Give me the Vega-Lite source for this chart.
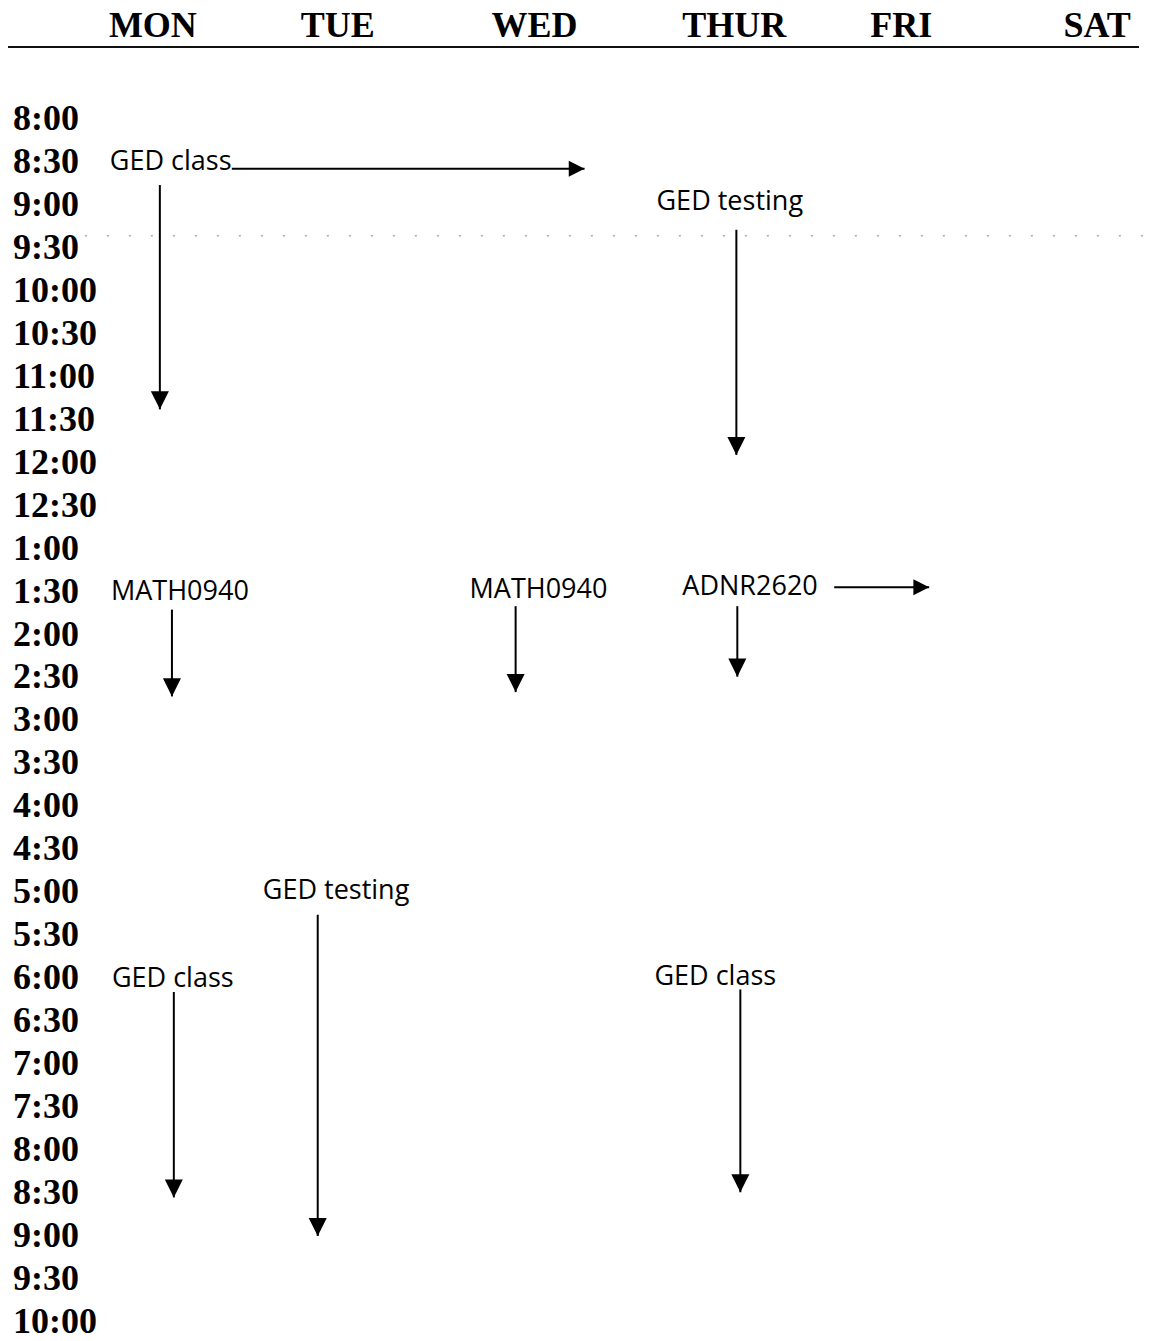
{
  "$schema": "https://vega.github.io/schema/vega-lite/v6.json",
  "width": 1155,
  "height": 1341,
  "padding": 0,
  "autosize": {"type": "fit", "contains": "padding"},
  "background": "white",
  "config": {"view": {"stroke": null}},
  "datasets": {
    "days": [
      {"day": "MON", "col": 1.0},
      {"day": "TUE", "col": 1.979},
      {"day": "WED", "col": 3.021},
      {"day": "THUR", "col": 4.079},
      {"day": "FRI", "col": 4.963},
      {"day": "SAT", "col": 6.0}
    ],
    "times": [
      {"t": 8, "label": "8:00"}, {"t": 8.5, "label": "8:30"},
      {"t": 9, "label": "9:00"}, {"t": 9.5, "label": "9:30"},
      {"t": 10, "label": "10:00"}, {"t": 10.5, "label": "10:30"},
      {"t": 11, "label": "11:00"}, {"t": 11.5, "label": "11:30"},
      {"t": 12, "label": "12:00"}, {"t": 12.5, "label": "12:30"},
      {"t": 13, "label": "1:00"}, {"t": 13.5, "label": "1:30"},
      {"t": 14, "label": "2:00"}, {"t": 14.5, "label": "2:30"},
      {"t": 15, "label": "3:00"}, {"t": 15.5, "label": "3:30"},
      {"t": 16, "label": "4:00"}, {"t": 16.5, "label": "4:30"},
      {"t": 17, "label": "5:00"}, {"t": 17.5, "label": "5:30"},
      {"t": 18, "label": "6:00"}, {"t": 18.5, "label": "6:30"},
      {"t": 19, "label": "7:00"}, {"t": 19.5, "label": "7:30"},
      {"t": 20, "label": "8:00"}, {"t": 20.5, "label": "8:30"},
      {"t": 21, "label": "9:00"}, {"t": 21.5, "label": "9:30"},
      {"t": 22, "label": "10:00"}
    ],
    "events": [
      {"day": "MON", "label": "GED class", "col": 0.772, "t": 8.5},
      {"day": "THUR", "label": "GED testing", "col": 3.667, "t": 8.97},
      {"day": "MON", "label": "MATH0940", "col": 0.778, "t": 13.5},
      {"day": "WED", "label": "MATH0940", "col": 2.677, "t": 13.48},
      {"day": "THUR", "label": "ADNR2620", "col": 3.804, "t": 13.45},
      {"day": "TUE", "label": "GED testing", "col": 1.582, "t": 16.99},
      {"day": "MON", "label": "GED class", "col": 0.783, "t": 18.01},
      {"day": "THUR", "label": "GED class", "col": 3.656, "t": 17.98}
    ],
    "downArrows": [
      {"day": "MON", "col": 1.037, "start": 8.77, "end": 11.38},
      {"day": "THUR", "col": 4.09, "start": 9.29, "end": 11.91},
      {"day": "MON", "col": 1.101, "start": 13.71, "end": 14.72},
      {"day": "WED", "col": 2.921, "start": 13.67, "end": 14.67},
      {"day": "THUR", "col": 4.095, "start": 13.67, "end": 14.49},
      {"day": "TUE", "col": 1.873, "start": 17.26, "end": 21.0},
      {"day": "MON", "col": 1.111, "start": 18.16, "end": 20.55},
      {"day": "THUR", "col": 4.111, "start": 18.13, "end": 20.49}
    ],
    "rightArrows": [
      {"day": "MON", "t": 8.58, "from": 1.418, "to": 3.286},
      {"day": "THUR", "t": 13.45, "from": 4.608, "to": 5.111}
    ],
    "lines": [
      {"kind": "header rule", "x0": 0.233, "x1": 6.222, "t": 7.163},
      {"kind": "scan dots", "x0": 0.64, "x1": 6.3, "t": 9.36}
    ]
  },
  "layer": [
    {
      "data": {"name": "lines"},
      "transform": [{"filter": "datum.kind === 'header rule'"}],
      "mark": {"type": "rule", "strokeWidth": 2, "color": "#111"},
      "encoding": {
        "x": {"field": "x0", "type": "quantitative", "scale": {"domain": [0.19048, 6.30159], "nice": false, "zero": false}, "axis": null},
        "x2": {"field": "x1"},
        "y": {"field": "t", "type": "quantitative", "scale": {"domain": [6.6163, 22.2093], "nice": false, "zero": false, "reverse": true}, "axis": null}
      }
    },
    {
      "data": {"name": "lines"},
      "transform": [{"filter": "datum.kind === 'scan dots'"}],
      "mark": {"type": "rule", "strokeWidth": 1.5, "color": "#aaa", "strokeDash": [2, 20]},
      "encoding": {
        "x": {"field": "x0", "type": "quantitative", "scale": {"domain": [0.19048, 6.30159], "nice": false, "zero": false}, "axis": null},
        "x2": {"field": "x1"},
        "y": {"field": "t", "type": "quantitative", "scale": {"domain": [6.6163, 22.2093], "nice": false, "zero": false, "reverse": true}, "axis": null}
      }
    },
    {
      "data": {"name": "days"},
      "mark": {"type": "text", "font": "Liberation Serif", "fontWeight": "bold", "fontSize": 36, "align": "center", "baseline": "middle", "color": "#000"},
      "encoding": {
        "x": {"field": "col", "type": "quantitative", "scale": {"domain": [0.19048, 6.30159], "nice": false, "zero": false}, "axis": null},
        "y": {"datum": 6.92, "type": "quantitative", "scale": {"domain": [6.6163, 22.2093], "nice": false, "zero": false, "reverse": true}, "axis": null},
        "text": {"field": "day"}
      }
    },
    {
      "data": {"name": "times"},
      "mark": {"type": "text", "font": "Liberation Serif", "fontWeight": "bold", "fontSize": 36, "align": "left", "baseline": "middle", "color": "#000"},
      "encoding": {
        "x": {"datum": 0.259, "type": "quantitative", "scale": {"domain": [0.19048, 6.30159], "nice": false, "zero": false}, "axis": null},
        "y": {"field": "t", "type": "quantitative", "scale": {"domain": [6.6163, 22.2093], "nice": false, "zero": false, "reverse": true}, "axis": null},
        "text": {"field": "label"}
      }
    },
    {
      "data": {"name": "events"},
      "mark": {"type": "text", "font": "Open Sans", "fontSize": 27, "align": "left", "baseline": "middle", "color": "#000"},
      "encoding": {
        "x": {"field": "col", "type": "quantitative", "scale": {"domain": [0.19048, 6.30159], "nice": false, "zero": false}, "axis": null},
        "y": {"field": "t", "type": "quantitative", "scale": {"domain": [6.6163, 22.2093], "nice": false, "zero": false, "reverse": true}, "axis": null},
        "text": {"field": "label"}
      }
    },
    {
      "data": {"name": "downArrows"},
      "mark": {"type": "rule", "strokeWidth": 2, "color": "#000"},
      "encoding": {
        "x": {"field": "col", "type": "quantitative", "scale": {"domain": [0.19048, 6.30159], "nice": false, "zero": false}, "axis": null},
        "y": {"field": "start", "type": "quantitative", "scale": {"domain": [6.6163, 22.2093], "nice": false, "zero": false, "reverse": true}, "axis": null},
        "y2": {"field": "end"}
      }
    },
    {
      "data": {"name": "downArrows"},
      "mark": {"type": "point", "shape": "M0,0L-0.5,-1L0.5,-1Z", "size": 1300, "filled": true, "color": "#000", "opacity": 1},
      "encoding": {
        "x": {"field": "col", "type": "quantitative", "scale": {"domain": [0.19048, 6.30159], "nice": false, "zero": false}, "axis": null},
        "y": {"field": "end", "type": "quantitative", "scale": {"domain": [6.6163, 22.2093], "nice": false, "zero": false, "reverse": true}, "axis": null}
      }
    },
    {
      "data": {"name": "rightArrows"},
      "mark": {"type": "rule", "strokeWidth": 2, "color": "#000"},
      "encoding": {
        "x": {"field": "from", "type": "quantitative", "scale": {"domain": [0.19048, 6.30159], "nice": false, "zero": false}, "axis": null},
        "x2": {"field": "to"},
        "y": {"field": "t", "type": "quantitative", "scale": {"domain": [6.6163, 22.2093], "nice": false, "zero": false, "reverse": true}, "axis": null}
      }
    },
    {
      "data": {"name": "rightArrows"},
      "mark": {"type": "point", "shape": "M0,0L-1,-0.5L-1,0.5Z", "size": 1000, "filled": true, "color": "#000", "opacity": 1},
      "encoding": {
        "x": {"field": "to", "type": "quantitative", "scale": {"domain": [0.19048, 6.30159], "nice": false, "zero": false}, "axis": null},
        "y": {"field": "t", "type": "quantitative", "scale": {"domain": [6.6163, 22.2093], "nice": false, "zero": false, "reverse": true}, "axis": null}
      }
    }
  ]
}
